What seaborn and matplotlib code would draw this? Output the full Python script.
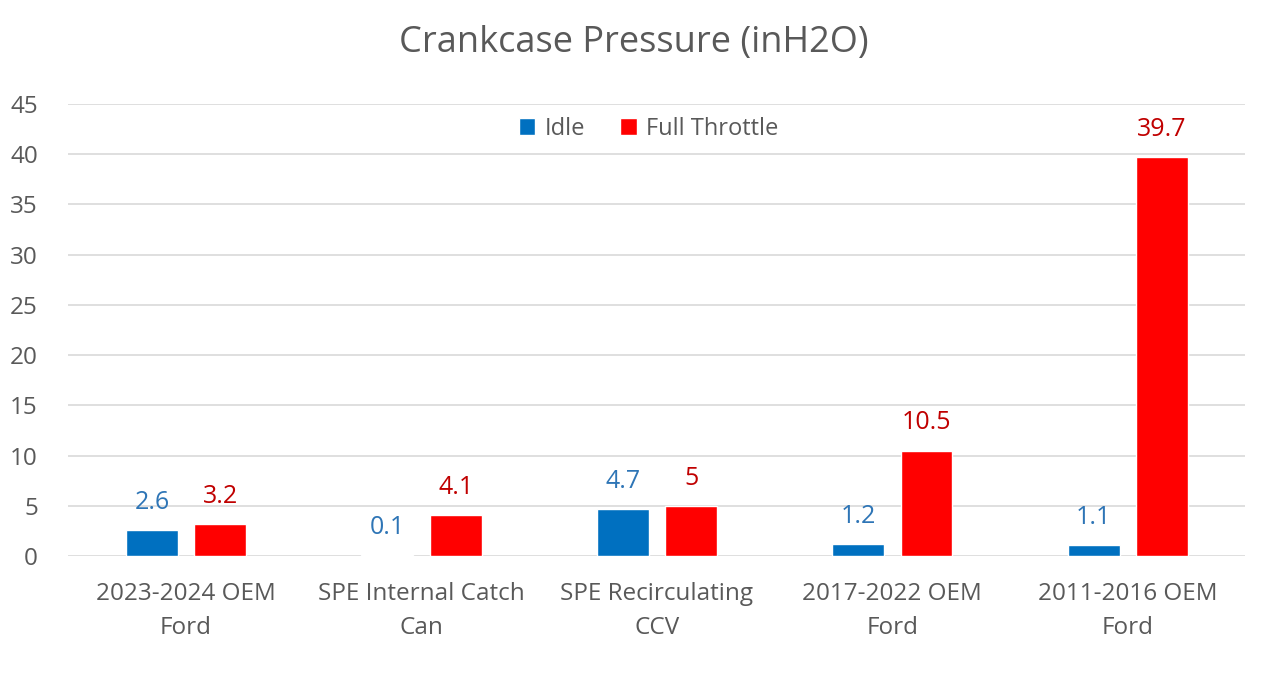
import matplotlib.pyplot as plt
import pandas as pd
import seaborn as sns

categories = ["2023-2024 OEM\nFord", "SPE Internal Catch\nCan", "SPE Recirculating\nCCV",
              "2017-2022 OEM\nFord", "2011-2016 OEM\nFord"]
idle = [2.6, 0.1, 4.7, 1.2, 1.1]
full_throttle = [3.2, 4.1, 5, 10.5, 39.7]
series = ["Idle", "Full Throttle"]
bar_colors = ["#0070C0", "#FF0000"]
label_colors = ["#2E75B6", "#C00000"]

df = pd.DataFrame({
    "category": categories * 2,
    "series": [series[0]] * len(categories) + [series[1]] * len(categories),
    "value": idle + full_throttle,
})

sns.set_style("white")
plt.rcParams["font.family"] = ["Open Sans", "DejaVu Sans"]
text_gray = "#595959"

fig = plt.figure(figsize=(12.67, 6.96), dpi=100)
ax = fig.add_axes([0.054, 0.201, 0.929, 0.65])

sns.barplot(data=df, x="category", y="value", hue="series", hue_order=series,
            palette=bar_colors, width=0.58, gap=0.24, saturation=1, ax=ax)

for cont, col, vals in zip(ax.containers, label_colors, [idle, full_throttle]):
    ax.bar_label(cont, labels=[f"{v:g}" for v in vals], padding=11,
                 color=col, fontsize=18)

ax.set_ylim(0, 45)
ax.set_xlim(-0.5, 4.5)
ax.set_yticks(range(0, 46, 5))
ax.yaxis.grid(True, color="#D9D9D9", linewidth=1.2)
ax.set_axisbelow(True)
for s in ax.spines.values():
    s.set_visible(False)
ax.tick_params(axis="both", length=0, labelsize=17.5, colors=text_gray)
ax.tick_params(axis="x", pad=19)
ax.tick_params(axis="y", pad=22)
for t in ax.get_xticklabels():
    t.set_linespacing(1.55)
ax.set_xlabel("")
ax.set_ylabel("")

fig.text(0.5, 0.938, "Crankcase Pressure (inH2O)", ha="center", va="center",
         fontsize=26, color=text_gray)

leg = ax.legend(loc="center", bbox_to_anchor=(0.493, 0.945), ncol=2, frameon=False,
                fontsize=17, handlelength=0.7, handleheight=0.7, handletextpad=0.4,
                columnspacing=1.5)
for t in leg.get_texts():
    t.set_color(text_gray)

fig.savefig("out.png", dpi=100)
